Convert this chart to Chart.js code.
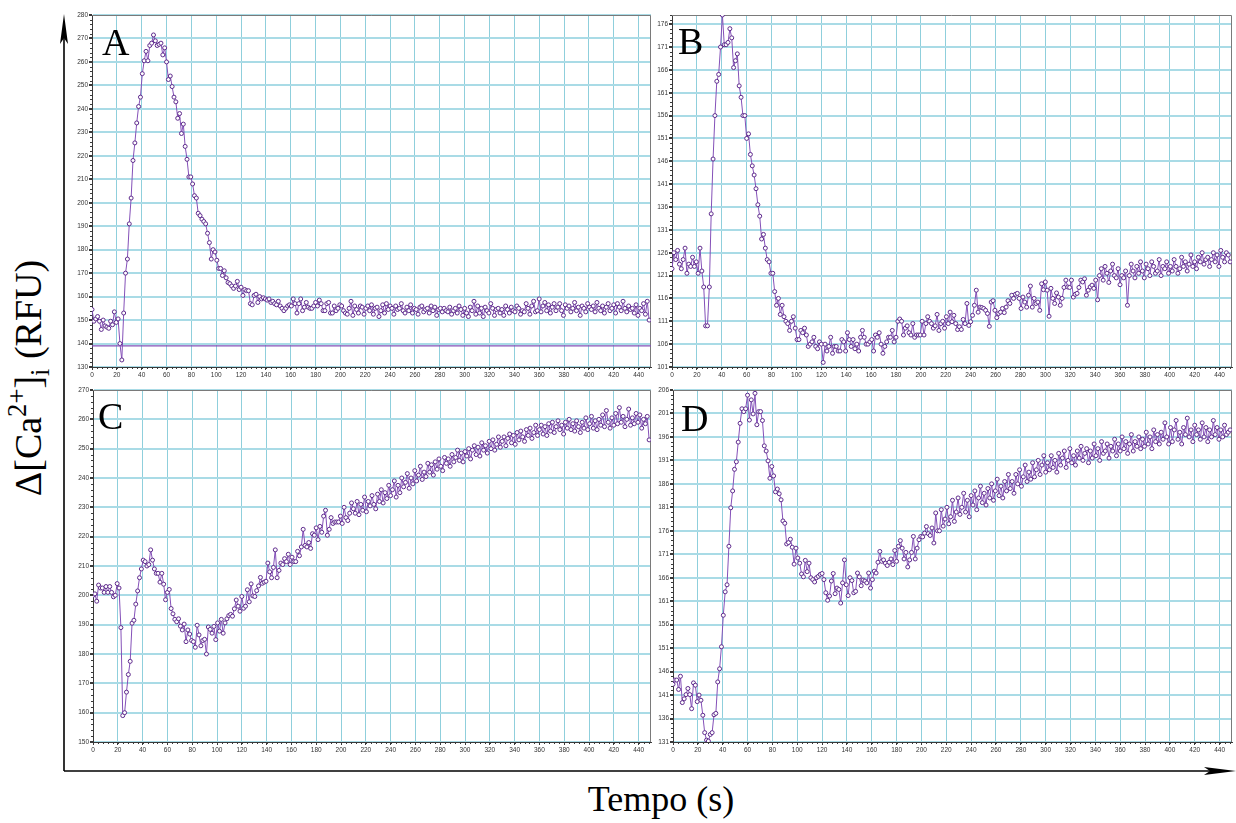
<!DOCTYPE html>
<html>
<head>
<meta charset="utf-8">
<script src="https://cdn.jsdelivr.net/npm/chart.js"></script>
<style>
  html,body{margin:0;padding:0;background:#fff;}
  body{width:1236px;height:823px;position:relative;overflow:hidden;}
  canvas{position:absolute;}
  .serif{position:absolute;font-family:"Liberation Serif","Times New Roman",Times,Tinos,"DejaVu Serif","Noto Serif",serif;color:#000;white-space:nowrap;}
  .letter{font-size:38px;line-height:38px;}
</style>
</head>
<body>
<svg width="1236" height="823" style="position:absolute;left:0;top:0">
  <line x1="64" y1="771" x2="64" y2="34" stroke="#000" stroke-width="1.6"/>
  <polygon points="64,14 60,44 64,38 68,44" fill="#000"/>
  <line x1="64" y1="771" x2="1210" y2="771" stroke="#000" stroke-width="1.6"/>
  <polygon points="1236,771 1204,767 1210,771 1204,775" fill="#000"/>
</svg>

<canvas id="cA" width="590" height="385" style="left:70px;top:5px"></canvas>
<canvas id="cB" width="586" height="385" style="left:650px;top:5px"></canvas>
<canvas id="cC" width="590" height="385" style="left:70px;top:380px"></canvas>
<canvas id="cD" width="586" height="385" style="left:650px;top:380px"></canvas>

<div class="serif letter" style="left:102px;top:23px">A</div>
<div class="serif letter" style="left:678px;top:22px">B</div>
<div class="serif letter" style="left:98px;top:397px">C</div>
<div class="serif letter" style="left:681px;top:399px">D</div>

<div class="serif" style="left:30px;top:378px;font-size:38px;line-height:38px;transform:translate(-50%,-50%) rotate(-90deg);">Δ[Ca<span style="font-size:70%;position:relative;top:-0.55em">2+</span>]<span style="font-size:70%;position:relative;top:0.3em">i</span> (RFU)</div>
<div class="serif" style="left:661px;top:781px;font-size:36px;line-height:36px;transform:translateX(-50%);">Tempo (s)</div>

<script>
// ---- data ----
const sampleInterval = 1.5; // seconds between readings
const xMax = 450;
const xTicks = [0,20,40,60,80,100,120,140,160,180,200,220,240,260,280,300,320,340,360,380,400,420,440];
const yTicksA = [130,140,150,160,170,180,190,200,210,220,230,240,250,260,270,280];
const yTicksB = [101,106,111,116,121,126,131,136,141,146,151,156,161,166,171,176];
const yTicksC = [150,160,170,180,190,200,210,220,230,240,250,260,270];
const yTicksD = [131,136,141,146,151,156,161,166,171,176,181,186,191,196,201,206];
const thresholdA = 139;

const seriesA = [
154.5,149.5,150.5,151.5,149.5,146,150,147.5,147,146.5,
149.5,148,153.5,149,150.5,140,133,153,170,176,
191,202,218,225.5,234,241,245,255,260.5,264.5,
260.5,267,268,271.5,269,267,267.5,268,263,266,
260,252.5,254,249.5,245,243,236,238,229.5,233.5,
224,218.5,211,211,208,203,202,195.5,194.5,193,
192,191,187,183,176,180,179,175.5,172,172,
169,171,168,166,165.5,164.5,163.5,164.5,166.5,163,
164,160.5,163,162.5,162.5,157,156.5,160.5,161,157.5,
160,159,159.5,159,158.5,159,157.5,158,157,156.5,
158,156,155,154,155,156,156.5,156,159,157,
153,157,159,154,155.5,157.5,155.5,155,155,156,
157.5,156,158.5,157,154,154,157,157.5,153,153,
156,154,155,156.5,156,154,153,152.5,155,158,
152,156,154.5,153,156,155.5,152.5,155,156,154,
156.5,152.5,155,155.5,151.5,154,156.5,153,157,154.5,
156,155,152.5,156,154.5,155,157,154,153,155.5,
154,156.5,153,155,154.5,152.5,155.5,156,153.5,154.5,
155,153,156,154,155.5,152,154.5,155,153.5,155,
154,153.5,155.5,152.5,154,155,153,156,154.5,152,
155,153,151.5,155.5,154,158,152.5,156,153,155,
151.5,155.5,154,153,157,155,152,154.5,155,153,
154.5,152,156,154.5,153,155.5,154,153.5,156,155,
152.5,154,153.5,157,155,152.5,156,158,153.5,154,
159,153.5,156,157.5,154,156.5,153,155.5,157,154,
155.5,157,154,152,156.5,155,156,153.5,155,157.5,
154,155.5,152,156,155,153.5,157,155.5,154.5,156,
153.5,157.5,155,154,156,153,155.5,157,154,155,
156.5,153,157,155.5,154,158,155,153.5,156,154.5,
155,153,156.5,152,155,154,157,152.5,158,150
];

const seriesB = [
122.5,126,124.5,126.5,123.5,122.5,124.5,127,121.5,123.5,
123,125,123,124,121.5,127,122,118.5,110,110,
118.5,134.5,146.5,156,163.5,165,171,178,171.5,171.5,
172,175,173,166.5,168,169.5,162.5,160,156,156,
151,152,147.5,145,143,140,136.5,134,129,130,
127,124.5,124,121.5,121.5,117.5,114.5,116,112.5,114.5,
112,111,110.5,109,111,112,109.5,107,107,109,
108.5,109.5,108,105.5,106,106.5,107.5,105.5,105,106.5,
106,102,106,104.5,105.5,107.5,104,105.5,105.5,104.5,
104.5,107,106.5,104.5,108.5,107,105.5,107,105,106,
104.5,107.5,109,107.5,106,106,106.5,107,104.5,108,
107.5,108.5,106,104,105.5,106.5,107.5,107.5,109,106.5,
107.5,111,111.5,111,108,109.5,110,108.5,108,110.5,
107.5,108,108,108,111,108,110.5,112,111,110.5,
109.5,110,112.5,109,110.5,111,109.5,112,110.5,113,
110.9,112.3,110.5,109.2,109.8,109.2,111.4,110.5,114.9,110.1,
110.9,112.3,114.5,117.8,113,114.1,114,113.8,113.4,112.7,
109.9,115.2,115.5,113.4,111.8,112.7,113,113.8,112.9,114.1,
115.5,114.9,116.7,116,116.9,117.1,116,113.8,116.3,115.2,
114.1,116.7,118.7,114.1,116,114.9,115.2,113.4,119.2,117.9,
119.6,117.8,112.1,118.2,116,114.9,117.2,116.3,114.5,116,
118.4,120,118.5,118.4,120,116.3,116.9,117.1,118.4,120,
119.6,120.3,116.7,117.8,118.5,118.9,118.2,120,115.7,121,
122.5,120,123,121.5,119.5,122,123.5,121,120.5,122.5,
119,121,120.5,122,114.5,121,123.5,122,120.5,123,
121.5,124,122,120.5,123.5,122.5,121,124,123,121.5,
122,124.5,121,123,122.5,124,121.5,123,122,124.5,
123,121.5,122.5,125,123,124,122,123.5,125.5,123,
124,122.5,125,124,126,123.5,124.5,125,123,124.5,
126,124,125.5,123,126.5,125,124,126,125.5,124
];

const seriesC = [
200,200.5,198,203.5,202.5,202.5,201,203,201,203,
201,199.5,200,204,202.5,189,159,160,167,173,
177.5,190.5,191.5,197,201.5,206,209,212,211.5,210,
210.5,215.5,212,209,207.5,207.5,204.5,207.5,203.8,198.5,
201,202,195.5,193.7,191.8,191,192,189.5,188.2,190.2,
184.2,188.2,186.8,184.6,184.2,182.3,189.8,186.5,182.8,184.6,
185,180,189.2,188.4,187.1,189.4,184.9,190.6,187.8,191.8,
187.1,190.6,192,193.1,193.5,192.9,195.4,198.4,196.3,194.6,
199.6,195.6,196.3,201.9,197.8,203.9,199.8,199.6,201.6,203.2,
206.1,204.1,204.5,204.8,211,208,206,209.5,215.5,206,
208.5,211,210.5,212.5,211.5,214,210.5,213,211.5,211.5,
215,213.5,216.5,222.5,217,216.5,218,216,221,220.5,
223,219,223.5,221.5,227,229,220.5,222.5,226.5,224.5,
225,225,225,227,224.5,230,226.5,225.5,228,231.5,
229.5,228,232,227.5,231,229,233.5,228.5,232,230.5,
234,231,229.5,234.5,232,236,231.5,235,233,237.5,
234,236,239,233.5,237.5,235,240,237,238.5,241.5,
236.5,240,238,242.5,239,241,244,239.5,242,240.5,
245,242,244.5,241,245.5,243,246.5,244,242.5,247,
245,246.5,244,248,245.5,247,249.5,246,248.5,245.5,
249,247.5,250,246.5,249.5,251,248,250.5,247.5,252,
249.5,251,248.5,252.5,250,253,249.5,251.5,254,250.5,
252.5,254,251,253.5,255,252,254.5,251.5,255.5,253,
256,254,252.5,256.5,254.5,257,253.5,255.5,258,254.5,
256.5,258,255,257.5,254.5,258.5,256,259,255.5,257.5,
259.5,256.5,258,255,259,257,260,256.5,258.5,256,
259.5,257.5,255.5,259,257,260.5,256.5,258.5,261,257,
259.5,256.5,260,258,261.5,257.5,263,259,257,260.5,
258,262,258.5,264,259,261,257.5,260,263.5,258,
260.5,258.5,262,259,261.5,257,260,258.5,261,253
];

const seriesD = [
143.3,144.2,144.2,142.2,145,139.4,140.2,141.1,142.4,141.1,
138.1,143.6,143.1,139.6,141,139.9,136.7,133,131.4,131.2,
132.6,133,136.8,137.1,143.8,146.6,151.3,158,163,164.5,
172.7,180.9,184.5,189.1,190.7,194.9,198.9,202,201.4,202,
204.9,199.6,203.9,200.9,205.3,198.6,201.4,201.4,199.5,194.1,
193,190.9,187.2,189.7,187.7,184.3,184.9,183.9,182.6,178.1,
177.6,173.2,173.5,174.2,172.5,168.9,172.3,170.2,169.1,166.8,
166.2,169.7,167.3,169.1,166,165.6,165.1,166,166.3,166.7,
166.9,165.6,162.8,161.2,162.1,165.3,166.9,162.6,163.8,163.5,
160.6,164.9,169.8,164.5,162.2,166,165.4,162.8,163.1,167,
166.2,164.3,165.5,165.3,164.9,167,163.8,165.6,167.4,167,
169.3,171.6,169.5,169.8,169.1,168.6,169.3,170,168.8,171.8,
169.5,172.7,173.9,172.3,170,171.4,168.3,169.8,171.4,174.8,
170,172.3,174.1,174.8,174.7,175.5,176.9,175.4,175,176.6,
173.4,179.8,176,176,180.5,177,178.5,181,177.5,179,
182.5,178,180,183,179.5,181,184,180,182.5,179,
183.5,181.5,184.5,180.5,183,185.5,182,184,181.5,185,
183,186,182.5,184.5,187,183.5,185.5,183,186.5,184.5,
188,185,186.5,184,188,186,189,185.5,187.5,190,
186.5,188.5,187,190.5,187.5,189,191,188,190,192,
188.5,190.5,189,192,189.5,191,188.5,192.5,190,191.5,
193,189.5,191,193.5,190.5,192,190,193,191.5,194,
191,192.5,193.5,190.5,193,191.5,194.5,192,193.5,191,
195,192.5,193,194.5,191.5,194,193,195.5,192,194.5,
193,196,193.5,195,192.5,194.5,196.5,193,195,194,
196,193.5,195.5,194,197,194.5,196,193.5,197.5,195,
196.5,194.5,197,195.5,199,196,194.5,198,195,197.5,
199.5,195.5,197,194.5,198,196.5,200,196,197.5,195,
198.5,196.5,197.5,195.5,199,196,198,195,197.5,196,
199.5,196.5,198,195.5,197.5,196,198.5,196.5,197,197.5
];

// ---- styles ----
const lineColor = '#8450b8';
const pointEdge = '#5e2a8c';
const pointFill = '#ffffff';
const gridColorX = '#8fcfdc';
const gridColorY = '#a9dbe6';
const axisColor = '#3a3a3a';
const frameColor = '#7a7a7a';
const xMinorStep = 4;

Chart.defaults.font.family = '"Liberation Sans", Arial, sans-serif';

function decorPlugin(yMin, yMax, yMinor){
  return {
    id: 'panelDecor',
    beforeDatasetsDraw(chart){
      const {ctx, chartArea:a} = chart;
      ctx.save();
      ctx.strokeStyle = frameColor; ctx.lineWidth = 1;
      ctx.beginPath();
      ctx.moveTo(a.left, a.top + 0.5); ctx.lineTo(a.right - 0.5, a.top + 0.5);
      ctx.lineTo(a.right - 0.5, a.bottom);
      ctx.stroke();
      ctx.restore();
    },
    afterDraw(chart){
      const {ctx, chartArea:a, scales} = chart;
      ctx.save();
      ctx.strokeStyle = axisColor; ctx.lineWidth = 1;
      ctx.beginPath();
      for (let v = 0; v <= xMax; v += xMinorStep){
        const px = Math.round(scales.x.getPixelForValue(v)) + 0.5;
        ctx.moveTo(px, a.bottom); ctx.lineTo(px, a.bottom + 2);
      }
      for (let v = yMin; v <= yMax + 1e-9; v += yMinor){
        const py = Math.round(scales.y.getPixelForValue(v)) + 0.5;
        ctx.moveTo(a.left - 2, py); ctx.lineTo(a.left, py);
      }
      ctx.stroke();
      ctx.restore();
    }
  };
}

function makePanel(id, values, yMin, yMax, yTicks, yMinor, yAxisWidth, padRight, extra){
  const pts = values.map((v, i) => ({x: i * sampleInterval, y: v}));
  const datasets = [];
  if (extra) datasets.push(extra);
  datasets.push({
    data: pts, borderColor: lineColor, borderWidth: 1, tension: 0,
    pointRadius: 2, pointBorderWidth: 1, pointBorderColor: pointEdge,
    pointBackgroundColor: pointFill, pointHoverRadius: 2
  });
  new Chart(document.getElementById(id), {
    type: 'line',
    data: {datasets},
    options: {
      responsive: false, animation: false, devicePixelRatio: 1,
      layout: {padding: {left: 0, right: padRight, top: 10, bottom: 0}},
      plugins: {legend: {display: false}, tooltip: {enabled: false}},
      events: [],
      scales: {
        x: {
          type: 'linear', min: 0, max: xMax,
          afterBuildTicks: s => { s.ticks = xTicks.map(v => ({value: v})); },
          afterFit: s => { s.height = 23; },
          grid: {color: gridColorX, lineWidth: 1, tickLength: 3, tickColor: axisColor},
          border: {display: true, color: axisColor, width: 1},
          ticks: {font: {size: 6.5}, color: '#333', padding: 1, maxRotation: 0, autoSkip: false}
        },
        y: {
          type: 'linear', min: yMin, max: yMax,
          afterBuildTicks: s => { s.ticks = yTicks.map(v => ({value: v})); },
          afterFit: s => { s.width = yAxisWidth; },
          grid: {color: gridColorY, lineWidth: 2, tickLength: 3, tickColor: axisColor},
          border: {display: true, color: axisColor, width: 1},
          ticks: {font: {size: 6.5}, color: '#333', padding: 1, autoSkip: false}
        }
      }
    },
    plugins: [decorPlugin(yMin, yMax, yMinor)]
  });
}

const thresholdDataset = {
  data: [{x: 0, y: thresholdA}, {x: xMax, y: thresholdA}],
  borderColor: lineColor, borderWidth: 1.2, pointRadius: 0, tension: 0
};

makePanel('cA', seriesA, 130, 280, yTicksA, 2, 22, 9, thresholdDataset);
makePanel('cB', seriesB, 101, 178, yTicksB, 1, 22, 4, null);
makePanel('cC', seriesC, 150, 270, yTicksC, 2, 23, 9, null);
makePanel('cD', seriesD, 131, 206, yTicksD, 1, 23, 4, null);
</script>
</body>
</html>
